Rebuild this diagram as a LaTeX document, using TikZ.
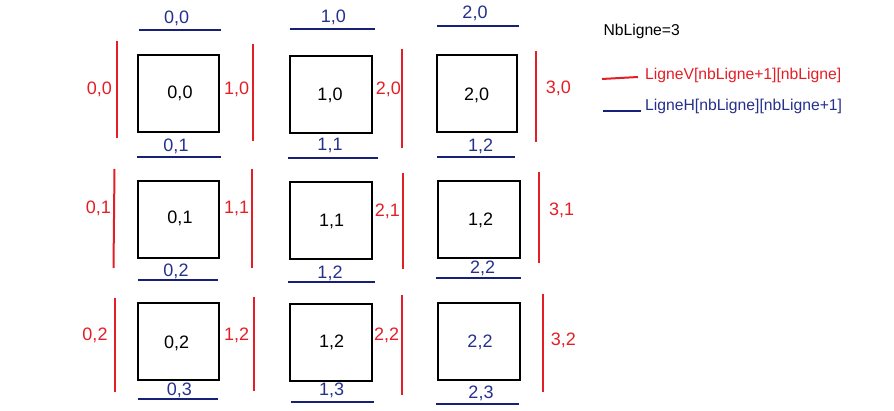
\documentclass[tikz,border=0pt]{standalone}
\usepackage{fontspec}
\setmainfont{Liberation Sans}
\definecolor{myred}{RGB}{228,30,38}
\definecolor{myblue}{RGB}{22,32,120}
\definecolor{mybluetext}{RGB}{36,48,140}
\begin{document}
\begin{tikzpicture}[x=1pt,y=-1pt,
  cell/.style={draw=black,line width=2pt},
  vline/.style={draw=myred,line width=2pt},
  hline/.style={draw=myblue,line width=2pt},
  lab/.style={font=\fontsize{18}{20}\selectfont,inner sep=0pt},
  redlab/.style={lab,text=myred},
  bluelab/.style={lab,text=mybluetext},
  leg/.style={font=\fontsize{15.7}{18}\selectfont,inner sep=0pt,anchor=west}]
\useasboundingbox (0,0) rectangle (894,411);
% boxes
\draw[cell] (138,55) rectangle (219,132);
\draw[cell] (290,56) rectangle (372,133);
\draw[cell] (437,55) rectangle (517,132);
\draw[cell] (138,181) rectangle (219,258);
\draw[cell] (290,182) rectangle (372,259);
\draw[cell] (438,181) rectangle (520,258);
\draw[cell] (138,303) rectangle (219,380);
\draw[cell] (290,304) rectangle (372,381);
\draw[cell] (438,303) rectangle (520,380);
% box labels
\node[lab] (c00) at (180,93.3) {0,0};
\node[lab] (c10) at (330,95.7) {1,0};
\node[lab] (c20) at (476.7,95) {2,0};
\node[lab] (c01) at (180,218.3) {0,1};
\node[lab] (c11) at (331.7,221.7) {1,1};
\node[lab] (c21) at (480.7,220) {1,2};
\node[lab] (c02) at (176.7,343.3) {0,2};
\node[lab] (c12) at (331.7,342.7) {1,2};
\node[lab,text=mybluetext] (c22) at (480,342.7) {2,2};
% red vertical lines
\draw[vline] (117,41) -- (117,138);
\draw[vline] (253,44) -- (253,141);
\draw[vline] (402,49) -- (402,148);
\draw[vline] (536,51) -- (536,142);
\draw[vline] (114.5,169) -- (113.5,268);
\draw[vline] (252,169) -- (252,268);
\draw[vline] (403,173) -- (403,269);
\draw[vline] (539,172) -- (539,263);
\draw[vline] (115,298) -- (115,392);
\draw[vline] (254,297) -- (254,391);
\draw[vline] (402,295) -- (402,395);
\draw[vline] (543,294) -- (543,392);
% red labels
\node[redlab] (v00) at (99.3,89.3) {0,0};
\node[redlab] (v10) at (236.7,89.3) {1,0};
\node[redlab] (v20) at (388.3,89.3) {2,0};
\node[redlab] (v30) at (558.3,88.3) {3,0};
\node[redlab] (v01) at (98.3,208.3) {0,1};
\node[redlab] (v11) at (236.7,208.3) {1,1};
\node[redlab] (v21) at (387.3,211.7) {2,1};
\node[redlab] (v31) at (561.7,210.7) {3,1};
\node[redlab] (v02) at (95,335) {0,2};
\node[redlab] (v12) at (236.7,335) {1,2};
\node[redlab] (v22) at (386.7,335) {2,2};
\node[redlab] (v32) at (563.3,340) {3,2};
% blue horizontal lines
\draw[hline] (139,30) -- (221,30);
\draw[hline] (290,29) -- (375,29);
\draw[hline] (437,26) -- (519,26);
\draw[hline] (137,157) -- (221,157);
\draw[hline] (288,158) -- (378,158);
\draw[hline] (437,157) -- (515,157);
\draw[hline] (138,280) -- (218,280);
\draw[hline] (288,282) -- (375,282);
\draw[hline] (436,278) -- (521,278);
\draw[hline] (138,399) -- (218,399);
\draw[hline] (291,402) -- (374,402);
\draw[hline] (436,404) -- (519,404);
% blue labels
\node[bluelab] (h00) at (176.7,18) {0,0};
\node[bluelab] (h10) at (333.3,17.3) {1,0};
\node[bluelab] (h20) at (475,13.3) {2,0};
\node[bluelab] (h01) at (176,146.7) {0,1};
\node[bluelab] (h11) at (330,145) {1,1};
\node[bluelab] (h21) at (480.7,146) {1,2};
\node[bluelab] (h02) at (176,271.7) {0,2};
\node[bluelab] (h12) at (330,273.3) {1,2};
\node[bluelab] (h22) at (482.7,268.3) {2,2};
\node[bluelab] (h03) at (179.3,390) {0,3};
\node[bluelab] (h13) at (331.7,390) {1,3};
\node[bluelab] (h23) at (481,393.3) {2,3};
% legend
\node[leg] (nb) at (603.3,31) {NbLigne=3};
\draw[vline] (602,79) -- (638,77);
\node[leg,text=myred] (lv) at (645,75) {LigneV[nbLigne+1][nbLigne]};
\draw[hline] (603,111) -- (641,111);
\node[leg,text=mybluetext] (lh) at (645,106.7) {LigneH[nbLigne][nbLigne+1]};
\end{tikzpicture}
\end{document}
